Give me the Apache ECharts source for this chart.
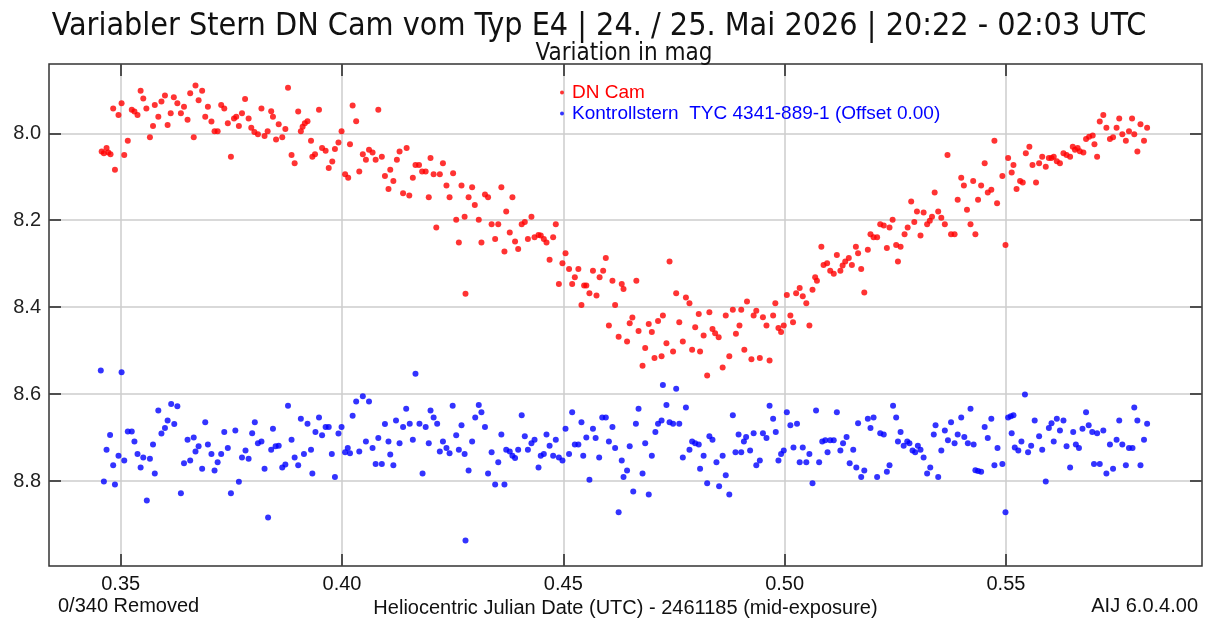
<!DOCTYPE html>
<html>
<head>
<meta charset="utf-8">
<script src="https://cdn.jsdelivr.net/npm/echarts@6/dist/echarts.min.js"></script>
<style>
  html, body { margin: 0; padding: 0; background: #fff; }
  #main { width: 1208px; height: 620px; }
</style>
</head>
<body>
<div id="main"></div>
<script>
const xTicks = [0.35, 0.40, 0.45, 0.50, 0.55]
const yTicks = [8.0, 8.2, 8.4, 8.6, 8.8]

// HJD - 2461185, Magnitude
const dnCam = [
  [.3457,8.042],[.3462,8.046],[.3468,8.034],[.3472,8.044],[.3477,8.048],[.3483,7.943],[.3487,8.084],[.3495,7.958],[.3502,7.931],[.3508,8.050],
  [.3516,8.017],[.3525,7.946],[.3531,7.950],[.3538,7.958],[.3545,7.902],[.3551,7.920],[.3558,7.943],[.3566,8.009],[.3573,7.983],[.3577,7.935],
  [.3585,7.962],[.3592,7.927],[.3600,7.913],[.3606,7.981],[.3613,7.954],[.3620,7.917],[.3628,7.931],[.3636,7.954],[.3643,7.939],[.3651,7.969],
  [.3657,7.908],[.3665,8.009],[.3669,7.890],[.3676,7.924],[.3684,7.902],[.3691,7.962],[.3697,7.939],[.3705,7.973],[.3712,7.995],[.3719,7.995],
  [.3727,7.935],[.3734,7.943],[.3742,7.977],[.3749,8.054],[.3756,7.966],[.3761,7.962],[.3767,7.983],[.3774,7.954],[.3781,7.921],[.3789,7.966],
  [.3795,7.987],[.3802,7.997],[.3810,8.002],[.3818,7.943],[.3825,8.006],[.3832,7.995],[.3840,7.949],[.3844,7.962],[.3851,8.014],[.3857,7.979],
  [.3865,8.009],[.3872,7.990],[.3878,7.895],[.3886,8.050],[.3893,8.069],[.3901,7.950],[.3907,7.995],[.3911,7.985],[.3916,7.977],[.3922,7.972],
  [.3930,8.017],[.3933,8.054],[.3939,8.048],[.3948,7.946],[.3955,8.034],[.3963,8.040],[.3970,8.080],[.3978,8.065],[.3984,8.036],[.3992,8.021],
  [.3999,7.995],[.4007,8.094],[.4014,8.102],[.4018,8.025],[.4024,7.936],[.4032,7.972],[.4039,8.088],[.4047,8.048],[.4054,8.061],[.4061,8.038],
  [.4069,8.044],[.4076,8.061],[.4082,7.946],[.4090,8.054],[.4097,8.098],[.4105,8.128],[.4109,8.084],[.4116,8.110],[.4124,8.061],[.4130,8.042],
  [.4138,8.138],[.4146,8.034],[.4152,8.143],[.4160,8.102],[.4166,8.073],[.4174,8.073],[.4181,8.088],[.4189,8.088],[.4196,8.147],[.4200,8.057],
  [.4207,8.094],[.4213,8.217],[.4221,8.094],[.4228,8.069],[.4236,8.120],[.4243,8.147],[.4251,8.092],[.4258,8.199],[.4264,8.251],
  [.4270,8.120],[.4277,8.192],[.4279,8.369],[.4286,8.147],[.4294,8.124],[.4300,8.165],[.4309,8.199],[.4315,8.251],[.4323,8.141],[.4330,8.147],
  [.4338,8.209],[.4346,8.243],[.4353,8.209],[.4360,8.124],[.4367,8.272],[.4371,8.180],[.4379,8.228],[.4385,8.147],[.4391,8.249],[.4398,8.266],
  [.4406,8.209],[.4413,8.204],[.4420,8.243],[.4428,8.192],[.4435,8.239],[.4444,8.234],[.4449,8.235],[.4456,8.243],[.4462,8.251],[.4469,8.291],
  [.4477,8.239],[.4483,8.209],[.4490,8.347],[.4498,8.299],[.4505,8.276],[.4513,8.312],[.4520,8.347],[.4526,8.331],[.4534,8.312],[.4541,8.395],
  [.4547,8.350],[.4552,8.350],[.4559,8.368],[.4567,8.316],[.4575,8.373],[.4582,8.331],[.4590,8.316],[.4596,8.287],[.4603,8.442],[.4611,8.339],
  [.4617,8.395],[.4625,8.468],[.4632,8.347],[.4636,8.358],[.4644,8.479],[.4650,8.437],[.4656,8.424],[.4665,8.339],[.4670,8.455],
  [.4679,8.535],[.4685,8.494],[.4693,8.439],[.4700,8.457],[.4706,8.517],[.4714,8.432],[.4722,8.513],[.4725,8.419],[.4733,8.483],[.4740,8.295],
  [.4748,8.502],[.4755,8.368],[.4762,8.435],[.4770,8.479],[.4777,8.378],[.4785,8.391],[.4791,8.498],[.4798,8.446],[.4806,8.416],[.4809,8.502],
  [.4817,8.465],[.4825,8.557],[.4830,8.412],[.4837,8.450],[.4843,8.460],[.4851,8.469],[.4860,8.539],[.4867,8.419],[.4875,8.513],[.4883,8.406],
  [.4890,8.461],[.4898,8.442],[.4902,8.406],[.4909,8.498],[.4915,8.387],[.4925,8.520],[.4930,8.419],[.4936,8.408],[.4944,8.517],[.4951,8.423],
  [.4959,8.442],[.4966,8.523],[.4974,8.419],[.4979,8.391],[.4986,8.448],[.4992,8.457],[.4998,8.442],[.5005,8.372],[.5013,8.419],[.5019,8.435],
  [.5026,8.368],[.5034,8.356],[.5041,8.375],[.5049,8.391],[.5056,8.442],[.5063,8.360],[.5069,8.331],[.5073,8.339],
  [.5083,8.261],[.5088,8.303],[.5096,8.299],[.5103,8.316],[.5111,8.323],[.5118,8.280],[.5126,8.316],[.5131,8.304],[.5137,8.295],[.5145,8.287],
  [.5152,8.303],[.5161,8.261],[.5166,8.276],[.5173,8.312],[.5180,8.366],[.5188,8.268],[.5194,8.232],[.5201,8.239],[.5209,8.239],[.5216,8.209],
  [.5224,8.212],[.5231,8.264],[.5237,8.217],[.5244,8.199],[.5252,8.257],[.5256,8.295],[.5262,8.261],[.5271,8.232],[.5278,8.217],[.5286,8.157],
  [.5293,8.204],[.5299,8.180],[.5307,8.235],[.5314,8.182],[.5322,8.209],[.5328,8.201],[.5333,8.192],[.5339,8.136],[.5347,8.180],[.5354,8.194],
  [.5362,8.209],[.5368,8.050],[.5376,8.232],[.5384,8.232],[.5391,8.153],[.5399,8.102],[.5405,8.120],[.5412,8.176],[.5420,8.209],[.5426,8.110],
  [.5431,8.232],[.5437,8.153],[.5444,8.120],[.5452,8.069],[.5459,8.136],[.5467,8.130],[.5474,8.017],[.5480,8.161],
  [.5492,8.098],[.5499,8.257],[.5505,8.057],[.5513,8.090],[.5517,8.073],[.5524,8.128],[.5532,8.110],[.5538,8.113],[.5545,8.046],[.5553,8.031],
  [.5560,8.073],[.5568,8.113],[.5575,8.069],[.5582,8.054],[.5590,8.077],[.5597,8.057],[.5603,8.057],[.5608,8.054],[.5615,8.064],[.5622,8.069],
  [.5630,8.046],[.5637,8.050],[.5645,8.054],[.5651,8.031],[.5656,8.038],[.5662,8.034],[.5667,8.041],[.5675,8.044],[.5681,8.013],[.5688,8.008],
  [.5696,8.005],[.5700,8.025],[.5706,8.054],[.5712,7.973],[.5720,7.958],[.5727,7.987],[.5735,8.013],[.5742,8.009],[.5750,7.987],[.5756,7.966],
  [.5763,8.002],[.5771,8.017],[.5778,7.995],[.5785,7.966],[.5790,8.002],[.5797,8.042],[.5804,7.979],[.5812,8.017],[.5819,7.987]
]

const kontroll = [
  [.3455,8.546],[.3462,8.801],[.3468,8.728],[.3476,8.694],[.3483,8.764],[.3487,8.808],[.3495,8.742],[.3502,8.550],[.3508,8.753],[.3516,8.686],
  [.3525,8.686],[.3531,8.709],[.3538,8.738],[.3545,8.769],[.3551,8.746],[.3559,8.845],[.3566,8.749],[.3573,8.716],[.3577,8.783],[.3585,8.638],
  [.3592,8.691],[.3600,8.678],[.3606,8.661],[.3614,8.623],[.3621,8.669],[.3628,8.628],[.3636,8.828],[.3643,8.759],[.3651,8.705],[.3657,8.753],
  [.3665,8.700],[.3669,8.732],[.3676,8.720],[.3684,8.772],[.3691,8.665],[.3697,8.716],[.3705,8.738],[.3712,8.776],[.3719,8.757],[.3727,8.738],
  [.3734,8.687],[.3742,8.724],[.3749,8.828],[.3759,8.684],[.3767,8.802],[.3774,8.746],[.3782,8.730],[.3789,8.749],[.3797,8.690],[.3803,8.665],
  [.3810,8.713],[.3818,8.709],[.3825,8.772],[.3833,8.884],[.3840,8.728],[.3844,8.680],[.3850,8.720],[.3857,8.719],
  [.3865,8.769],[.3872,8.762],[.3878,8.627],[.3886,8.705],[.3893,8.746],[.3901,8.764],[.3907,8.657],[.3914,8.738],[.3922,8.668],[.3930,8.728],
  [.3933,8.783],[.3940,8.687],[.3948,8.654],[.3955,8.695],[.3963,8.676],[.3970,8.676],[.3977,8.738],[.3984,8.791],[.3992,8.691],[.3999,8.676],
  [.4007,8.734],[.4013,8.724],[.4018,8.736],[.4024,8.650],[.4032,8.617],[.4039,8.732],[.4047,8.605],[.4054,8.709],[.4061,8.617],[.4069,8.724],
  [.4076,8.761],[.4082,8.701],[.4090,8.761],[.4097,8.669],[.4105,8.709],[.4109,8.739],[.4116,8.764],[.4122,8.661],[.4130,8.713],[.4138,8.676],
  [.4145,8.634],[.4153,8.668],[.4160,8.705],[.4166,8.553],[.4175,8.668],[.4182,8.783],[.4189,8.676],[.4196,8.713],[.4200,8.638],[.4207,8.654],
  [.4215,8.668],[.4221,8.732],[.4228,8.709],[.4236,8.724],[.4243,8.736],[.4250,8.627],[.4258,8.695],[.4264,8.728],
  [.4270,8.672],[.4277,8.738],[.4279,8.937],[.4286,8.776],[.4294,8.709],[.4301,8.654],[.4309,8.625],[.4315,8.642],[.4323,8.676],[.4330,8.783],
  [.4338,8.734],[.4346,8.808],[.4353,8.757],[.4360,8.693],[.4367,8.808],[.4371,8.728],[.4379,8.732],[.4385,8.742],[.4391,8.747],[.4398,8.728],
  [.4406,8.649],[.4413,8.697],[.4420,8.728],[.4428,8.713],[.4435,8.705],[.4444,8.769],[.4449,8.742],[.4456,8.738],[.4462,8.693],[.4469,8.719],
  [.4477,8.742],[.4483,8.705],[.4490,8.746],[.4498,8.753],[.4505,8.680],[.4513,8.738],[.4520,8.642],[.4526,8.716],[.4534,8.716],[.4541,8.665],
  [.4545,8.742],[.4552,8.700],[.4559,8.797],[.4567,8.680],[.4573,8.701],[.4581,8.746],[.4588,8.654],[.4596,8.654],[.4603,8.709],[.4611,8.676],
  [.4617,8.724],[.4625,8.872],[.4632,8.753],[.4636,8.791],[.4644,8.776],[.4650,8.720],[.4658,8.824],[.4664,8.668],[.4670,8.634],
  [.4679,8.783],[.4685,8.713],[.4693,8.831],[.4700,8.742],[.4708,8.687],[.4714,8.668],[.4722,8.661],[.4725,8.579],[.4733,8.625],[.4740,8.665],
  [.4748,8.668],[.4755,8.588],[.4762,8.668],[.4770,8.746],[.4777,8.631],[.4785,8.728],[.4791,8.709],[.4798,8.713],[.4806,8.716],[.4809,8.772],
  [.4817,8.742],[.4825,8.805],[.4830,8.697],[.4837,8.705],[.4846,8.757],[.4852,8.812],[.4860,8.742],[.4867,8.787],[.4875,8.831],[.4883,8.649],
  [.4889,8.734],[.4896,8.693],[.4902,8.734],[.4908,8.709],[.4913,8.699],[.4922,8.730],[.4930,8.690],[.4936,8.764],[.4944,8.753],[.4951,8.690],
  [.4959,8.701],[.4966,8.627],[.4974,8.657],[.4980,8.687],[.4986,8.753],[.4992,8.738],[.4998,8.730],[.5005,8.642],[.5013,8.672],[.5020,8.723],
  [.5028,8.668],[.5034,8.757],[.5041,8.723],[.5049,8.757],[.5056,8.738],[.5063,8.805],[.5071,8.638],
  [.5078,8.757],[.5085,8.709],[.5092,8.706],[.5097,8.734],[.5103,8.706],[.5111,8.706],[.5118,8.642],[.5126,8.730],[.5132,8.713],[.5140,8.699],
  [.5147,8.759],[.5155,8.728],[.5162,8.769],[.5166,8.667],[.5173,8.791],[.5180,8.776],[.5188,8.657],[.5194,8.678],[.5201,8.654],[.5209,8.791],
  [.5216,8.690],[.5224,8.693],[.5231,8.779],[.5237,8.764],[.5245,8.627],[.5252,8.654],[.5256,8.709],[.5262,8.687],[.5269,8.719],[.5277,8.709],
  [.5282,8.713],[.5289,8.730],[.5295,8.734],[.5301,8.719],[.5307,8.728],[.5314,8.746],[.5322,8.783],[.5329,8.769],[.5337,8.693],[.5341,8.672],
  [.5347,8.791],[.5354,8.730],[.5362,8.684],[.5369,8.706],[.5376,8.665],[.5384,8.713],[.5391,8.693],[.5399,8.654],[.5406,8.699],[.5414,8.713],
  [.5420,8.634],[.5427,8.716],[.5431,8.775],[.5437,8.777],[.5444,8.779],[.5452,8.676],[.5459,8.701],[.5467,8.657],[.5474,8.764],[.5481,8.724],
  [.5492,8.761],[.5499,8.872],[.5505,8.654],[.5511,8.651],[.5513,8.690],[.5517,8.649],[.5520,8.723],[.5528,8.730],[.5535,8.709],[.5543,8.601],
  [.5550,8.734],[.5557,8.719],[.5565,8.661],[.5575,8.697],[.5582,8.728],[.5590,8.801],[.5597,8.678],[.5603,8.667],[.5608,8.709],[.5615,8.657],
  [.5622,8.684],[.5630,8.661],[.5637,8.720],[.5645,8.769],[.5652,8.687],[.5658,8.716],[.5665,8.724],[.5673,8.680],[.5681,8.642],[.5687,8.672],
  [.5695,8.687],[.5699,8.761],[.5706,8.690],[.5712,8.761],[.5720,8.684],[.5727,8.783],[.5735,8.716],[.5742,8.772],[.5750,8.705],[.5756,8.661],
  [.5763,8.716],[.5771,8.764],[.5778,8.724],[.5786,8.724],[.5790,8.631],[.5797,8.661],[.5804,8.764],[.5812,8.705],[.5819,8.668]
]

const narrow = "'DejaVu Sans Condensed', 'Liberation Sans', sans-serif"
const sans = "'Liberation Sans', Arial, sans-serif"
const xMin = 0.3338, xMax = 0.5943
const yMin = 7.8405, yMax = 8.9956

const myChart = echarts.init(document.getElementById('main'), null, { renderer: 'canvas' })

const tickStyle = { color: '#222', width: 1.5 }

myChart.setOption({
  animation: false,
  backgroundColor: '#fff',
  title: [
    {
      text: 'Variabler Stern DN Cam vom Typ E4 | 24. / 25. Mai 2026 | 20:22 - 02:03 UTC',
      left: 594, top: 6, textAlign: 'center',
      textStyle: { fontFamily: narrow, fontWeight: 'normal', fontSize: 32, color: '#111' }
    },
    {
      text: 'Variation in mag',
      left: 619, top: 37, textAlign: 'center',
      textStyle: { fontFamily: narrow, fontWeight: 'normal', fontSize: 24, color: '#111' }
    },
    {
      text: '0/340 Removed',
      left: 53, top: 591,
      textStyle: { fontFamily: sans, fontWeight: 'normal', fontSize: 20, color: '#111' }
    },
    {
      text: 'AIJ 6.0.4.00',
      right: 5, top: 591,
      textStyle: { fontFamily: sans, fontWeight: 'normal', fontSize: 20, color: '#111' }
    }
  ],
  legend: {
    orient: 'vertical',
    left: 555, top: 78,
    itemWidth: 4, itemHeight: 4, itemGap: 2,
    icon: 'circle',
    textStyle: { fontFamily: sans, fontSize: 19, padding: [0, 0, 0, 3] },
    data: [
      { name: 'DN Cam', textStyle: { color: '#ff0000' } },
      { name: 'Kontrollstern  TYC 4341-889-1 (Offset 0.00)', textStyle: { color: '#0000ff' } }
    ]
  },
  grid: {
    left: 49, right: 6, top: 64, bottom: 54,
    outerBoundsMode: 'none',
    show: true, borderColor: '#333', borderWidth: 1.5, backgroundColor: '#fff'
  },
  xAxis: [
    {
      type: 'value', position: 'bottom', min: xMin, max: xMax,
      axisLine: { show: false },
      axisTick: { inside: true, length: 12, customValues: xTicks, lineStyle: tickStyle },
      axisLabel: {
        customValues: xTicks, formatter: v => v.toFixed(2), margin: 8,
        fontFamily: sans, fontSize: 20, color: '#111'
      },
      splitLine: { show: true, lineStyle: { color: '#cccccc', width: 1.5 } },
      name: 'Heliocentric Julian Date (UTC) - 2461185 (mid-exposure)',
      nameLocation: 'middle', nameGap: 32,
      nameTextStyle: { fontFamily: sans, fontSize: 20, color: '#111' }
    },
    {
      type: 'value', position: 'top', min: xMin, max: xMax,
      axisLine: { show: false },
      axisTick: { inside: true, length: 12, customValues: xTicks, lineStyle: tickStyle },
      axisLabel: { show: false },
      splitLine: { show: false }
    }
  ],
  yAxis: [
    {
      type: 'value', position: 'left', inverse: true, min: yMin, max: yMax,
      axisLine: { show: false },
      axisTick: { inside: true, length: 12, customValues: yTicks, lineStyle: tickStyle },
      axisLabel: {
        customValues: yTicks, formatter: v => v.toFixed(1), margin: 8,
        fontFamily: sans, fontSize: 20, color: '#222'
      },
      splitLine: { show: true, lineStyle: { color: '#cccccc', width: 1.5 } }
    },
    {
      type: 'value', position: 'right', inverse: true, min: yMin, max: yMax,
      axisLine: { show: false },
      axisTick: { inside: true, length: 12, customValues: yTicks, lineStyle: tickStyle },
      axisLabel: { show: false },
      splitLine: { show: false }
    }
  ],
  series: [
    {
      name: 'DN Cam', type: 'scatter', data: dnCam,
      symbol: 'circle', symbolSize: 6,
      itemStyle: { color: '#ff0000' }
    },
    {
      name: 'Kontrollstern  TYC 4341-889-1 (Offset 0.00)', type: 'scatter', data: kontroll,
      symbol: 'circle', symbolSize: 6,
      itemStyle: { color: '#0000ff' }
    }
  ]
})
</script>
</body>
</html>
